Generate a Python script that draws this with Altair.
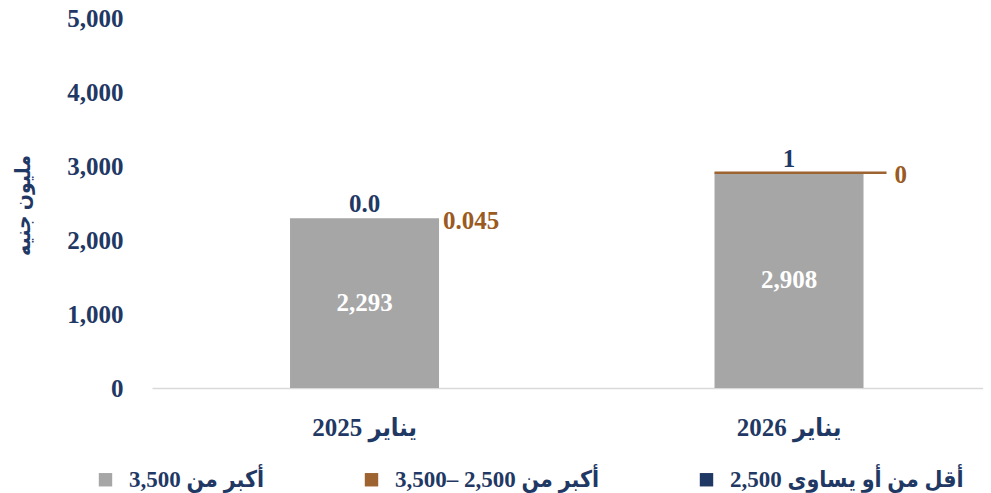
import altair as alt
import pandas as pd

# ---- data ----
categories = ["يناير 2025", "يناير 2026"]
series = ["أكبر من 3,500", "أكبر من 2,500 –3,500", "أقل من أو يساوى 2,500"]
gray_vals = [2293, 2908]
brown_vals = [0.045, 0]
navy_vals = [0.0, 1]
gray_labels = ["2,293", "2,908"]
brown_labels = ["0.045", "0"]
navy_labels = ["0.0", "1"]
y_ticks = [0, 1000, 2000, 3000, 4000, 5000]

GRAY = "#A6A6A6"
BROWN = "#9D6331"
BROWN_TXT = "#9A5A22"
NAVY = "#1F3864"
FONT = "Liberation Serif, DejaVu Sans Condensed, DejaVu Sans"

rows = []
for i, c in enumerate(categories):
    for k, (s, vals, labs) in enumerate(zip(series, [gray_vals, brown_vals, navy_vals],
                                             [gray_labels, brown_labels, navy_labels])):
        rows.append({"cat": c, "series": s, "value": vals[i], "label": labs[i], "ord": k,
                     "total": gray_vals[i] + brown_vals[i] + navy_vals[i]})
df = pd.DataFrame(rows)

xscale = alt.Scale(domain=categories, paddingInner=0.649, paddingOuter=0.3033, align=0.536)
yscale = alt.Scale(domain=[0, 5000], nice=False)

x_enc = alt.X("cat:N", scale=xscale, sort=categories,
              axis=alt.Axis(title=None, labelAngle=0, ticks=False, labelPadding=27,
                            labelFont=FONT, labelFontSize=25, labelFontWeight="bold",
                            labelColor=NAVY, domainColor="#D9D9D9", domainWidth=1.5))

base = alt.Chart(df)

bars = base.mark_bar().encode(
    x=x_enc,
    y=alt.Y("value:Q", stack="zero", scale=yscale,
            axis=alt.Axis(values=y_ticks, format=",.0f", grid=False, ticks=False, domain=False,
                          labelPadding=29, labelFont=FONT, labelFontSize=25,
                          labelFontWeight="bold", labelColor=NAVY,
                          title="مليون جنيه", titleFont=FONT, titleFontSize=21,
                          titleFontWeight="bold", titleColor=NAVY, titleAngle=-90,
                          titleX=-129, titleY=187, titleAlign="center",
                          titleBaseline="middle")),
    color=alt.Color("series:N", scale=alt.Scale(domain=series, range=[GRAY, BROWN, NAVY]),
                    legend=alt.Legend(title=None, orient="none", direction="horizontal",
                                      legendX=-58, legendY=450, padding=0, symbolType="square",
                                      symbolSize=180, symbolStrokeWidth=0,
                                      columnPadding=95, labelOffset=12,
                                      labelFont=FONT, labelFontSize=23,
                                      labelFontWeight="bold", labelColor=NAVY,
                                      labelLimit=400)),
    order=alt.Order("ord:Q"),
)

center_txt = base.transform_filter(alt.datum.ord == 0).transform_calculate(
    mid="datum.value / 2").mark_text(
    font=FONT, fontSize=25, fontWeight="bold", color="white", baseline="middle").encode(
    x=alt.X("cat:N", scale=xscale, sort=categories),
    y=alt.Y("mid:Q", scale=yscale),
    text="label:N")

navy_txt = base.transform_filter(alt.datum.ord == 2).mark_text(
    font=FONT, fontSize=25, fontWeight="bold", color=NAVY, baseline="alphabetic", dy=-6).encode(
    x=alt.X("cat:N", scale=xscale, sort=categories),
    y=alt.Y("total:Q", scale=yscale),
    text="label:N")

brown_txt1 = base.transform_filter((alt.datum.ord == 1) & (alt.datum.cat == categories[0])).mark_text(
    font=FONT, fontSize=25, fontWeight="bold", color=BROWN_TXT, baseline="middle",
    align="left", dx=4, dy=3).encode(
    x=alt.X("cat:N", scale=xscale, sort=categories, bandPosition=1),
    y=alt.Y("total:Q", scale=yscale),
    text="label:N")

brown_txt2 = base.transform_filter((alt.datum.ord == 1) & (alt.datum.cat == categories[1])).mark_text(
    font=FONT, fontSize=25, fontWeight="bold", color=BROWN_TXT, baseline="middle",
    align="left", dx=31, dy=2).encode(
    x=alt.X("cat:N", scale=xscale, sort=categories, bandPosition=1),
    y=alt.Y("total:Q", scale=yscale),
    text="label:N")

leader = base.transform_filter((alt.datum.ord == 1) & (alt.datum.cat == categories[1])).mark_rule(
    color=BROWN, strokeWidth=2.5, x2Offset=23).encode(
    x=alt.X("cat:N", scale=xscale, sort=categories, bandPosition=0),
    x2=alt.X2("cat:N", bandPosition=1),
    y=alt.Y("total:Q", scale=yscale))

chart = alt.layer(bars, leader, center_txt, navy_txt, brown_txt1, brown_txt2).properties(
    width=831, height=370,
    autosize=alt.AutoSizeParams(type="none"),
    padding={"left": 144, "top": 10, "right": 0, "bottom": 105},
).configure_view(stroke=None)

chart.save("out.html", embed_options={"renderer": "svg", "actions": False})
